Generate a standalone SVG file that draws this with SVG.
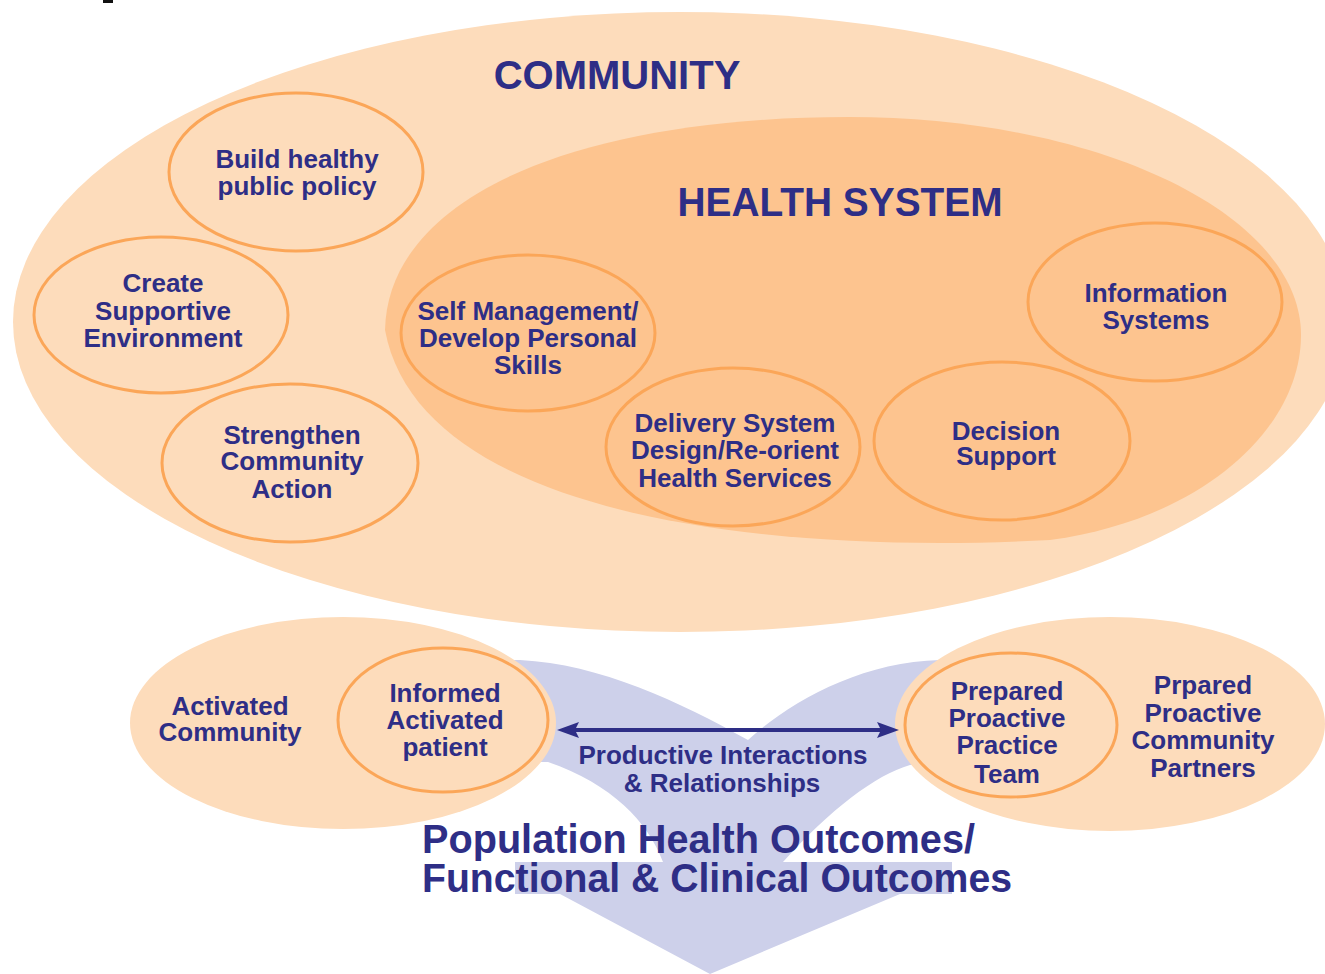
<svg xmlns="http://www.w3.org/2000/svg" width="1325" height="974" viewBox="0 0 1325 974">
  <style>
    .t { font-family: "Liberation Sans", Arial, sans-serif; font-weight: bold; fill: #2e2e86; text-anchor: middle; font-size: 26px; }
    .title { font-size: 40px; }
    .big { font-size: 40px; text-anchor: start; }
    .ring { fill: none; stroke: #fba658; stroke-width: 3; }
    .outer { fill: #fddcbb; }
    .inner { fill: #fdc48f; }
    .lav { fill: #cdd0ea; }
    .nav { fill: #2e2e86; }
  </style>
  <rect x="0" y="0" width="1325" height="974" fill="#ffffff"/>
  <rect x="103" y="0" width="10" height="3" fill="#111111"/>

  <g id="community">
    <ellipse class="outer" cx="680" cy="322" rx="667" ry="310"/>
    <text class="t title" x="617" y="89">COMMUNITY</text>
  </g>

  <g id="health-system">
    <path class="inner" d="M385,330 C388,195 580,117 849,117 C1100,117 1301,215 1301,335 C1301,430 1200,520 1050,540 C780,555 420,520 385,330 Z"/>
    <text class="t title" x="840" y="216" textLength="325" lengthAdjust="spacingAndGlyphs">HEALTH SYSTEM</text>
  </g>

  <g id="build-healthy-public-policy">
    <ellipse class="ring" cx="296" cy="172" rx="127" ry="79"/>
    <text class="t" x="297" y="168">Build healthy</text>
    <text class="t" x="297" y="195">public policy</text>
  </g>

  <g id="create-supportive-environment">
    <ellipse class="ring" cx="161" cy="315" rx="127" ry="78"/>
    <text class="t" x="163" y="292">Create</text>
    <text class="t" x="163" y="320">Supportive</text>
    <text class="t" x="163" y="347">Environment</text>
  </g>

  <g id="strengthen-community-action">
    <ellipse class="ring" cx="290" cy="463" rx="128" ry="79"/>
    <text class="t" x="292" y="444">Strengthen</text>
    <text class="t" x="292" y="470">Community</text>
    <text class="t" x="292" y="498">Action</text>
  </g>

  <g id="self-management">
    <ellipse class="ring" cx="528" cy="333" rx="127" ry="78"/>
    <text class="t" x="528" y="320">Self Management/</text>
    <text class="t" x="528" y="347">Develop Personal</text>
    <text class="t" x="528" y="374">Skills</text>
  </g>

  <g id="delivery-system-design">
    <ellipse class="ring" cx="733" cy="447" rx="127" ry="79"/>
    <text class="t" x="735" y="432">Delivery System</text>
    <text class="t" x="735" y="459">Design/Re-orient</text>
    <text class="t" x="735" y="487">Health Services</text>
  </g>

  <g id="decision-support">
    <ellipse class="ring" cx="1002" cy="441" rx="128" ry="79"/>
    <text class="t" x="1006" y="440">Decision</text>
    <text class="t" x="1006" y="465">Support</text>
  </g>

  <g id="information-systems">
    <ellipse class="ring" cx="1155" cy="302" rx="127" ry="79"/>
    <text class="t" x="1156" y="302">Information</text>
    <text class="t" x="1156" y="329">Systems</text>
  </g>

  <g id="outcomes">
    <path class="lav" d="M470,660 L520,660 C600,664 680,702 748,740 C790,702 860,662 940,660 L975,660 L975,765 L910,765 C875,775 830,810 783,862 L952,862 L952,894 L900,894 L710,974 L560,894 L515,894 L515,862 L663,862 C648,822 612,784 548,762 L470,762 Z"/>
    <text class="t big" x="422" y="853" textLength="553" lengthAdjust="spacingAndGlyphs">Population Health Outcomes/</text>
    <text class="t big" x="422" y="892" textLength="590" lengthAdjust="spacingAndGlyphs">Functional &amp; Clinical Outcomes</text>
  </g>

  <g id="activated-community">
    <ellipse class="outer" cx="343" cy="723" rx="213" ry="106"/>
    <text class="t" x="230" y="715">Activated</text>
    <text class="t" x="230" y="741">Community</text>
  </g>

  <g id="informed-activated-patient">
    <ellipse class="ring" cx="443" cy="720" rx="105" ry="72"/>
    <text class="t" x="445" y="702">Informed</text>
    <text class="t" x="445" y="729">Activated</text>
    <text class="t" x="445" y="756">patient</text>
  </g>

  <g id="community-partners">
    <ellipse class="outer" cx="1110" cy="724" rx="215" ry="107"/>
    <text class="t" x="1203" y="694">Prpared</text>
    <text class="t" x="1203" y="722">Proactive</text>
    <text class="t" x="1203" y="749">Community</text>
    <text class="t" x="1203" y="777">Partners</text>
  </g>

  <g id="practice-team">
    <ellipse class="ring" cx="1011" cy="725" rx="106" ry="72"/>
    <text class="t" x="1007" y="700">Prepared</text>
    <text class="t" x="1007" y="727">Proactive</text>
    <text class="t" x="1007" y="754">Practice</text>
    <text class="t" x="1007" y="783">Team</text>
  </g>

  <g id="connectors">
    <line x1="572" y1="730" x2="884" y2="730" stroke="#2e2e86" stroke-width="4"/>
    <polygon class="nav" points="557,730 579,722 575,730 579,738"/>
    <polygon class="nav" points="899,730 877,722 881,730 877,738"/>
    <text class="t" x="723" y="764">Productive Interactions</text>
    <text class="t" x="722" y="792">&amp; Relationships</text>
  </g>
</svg>
